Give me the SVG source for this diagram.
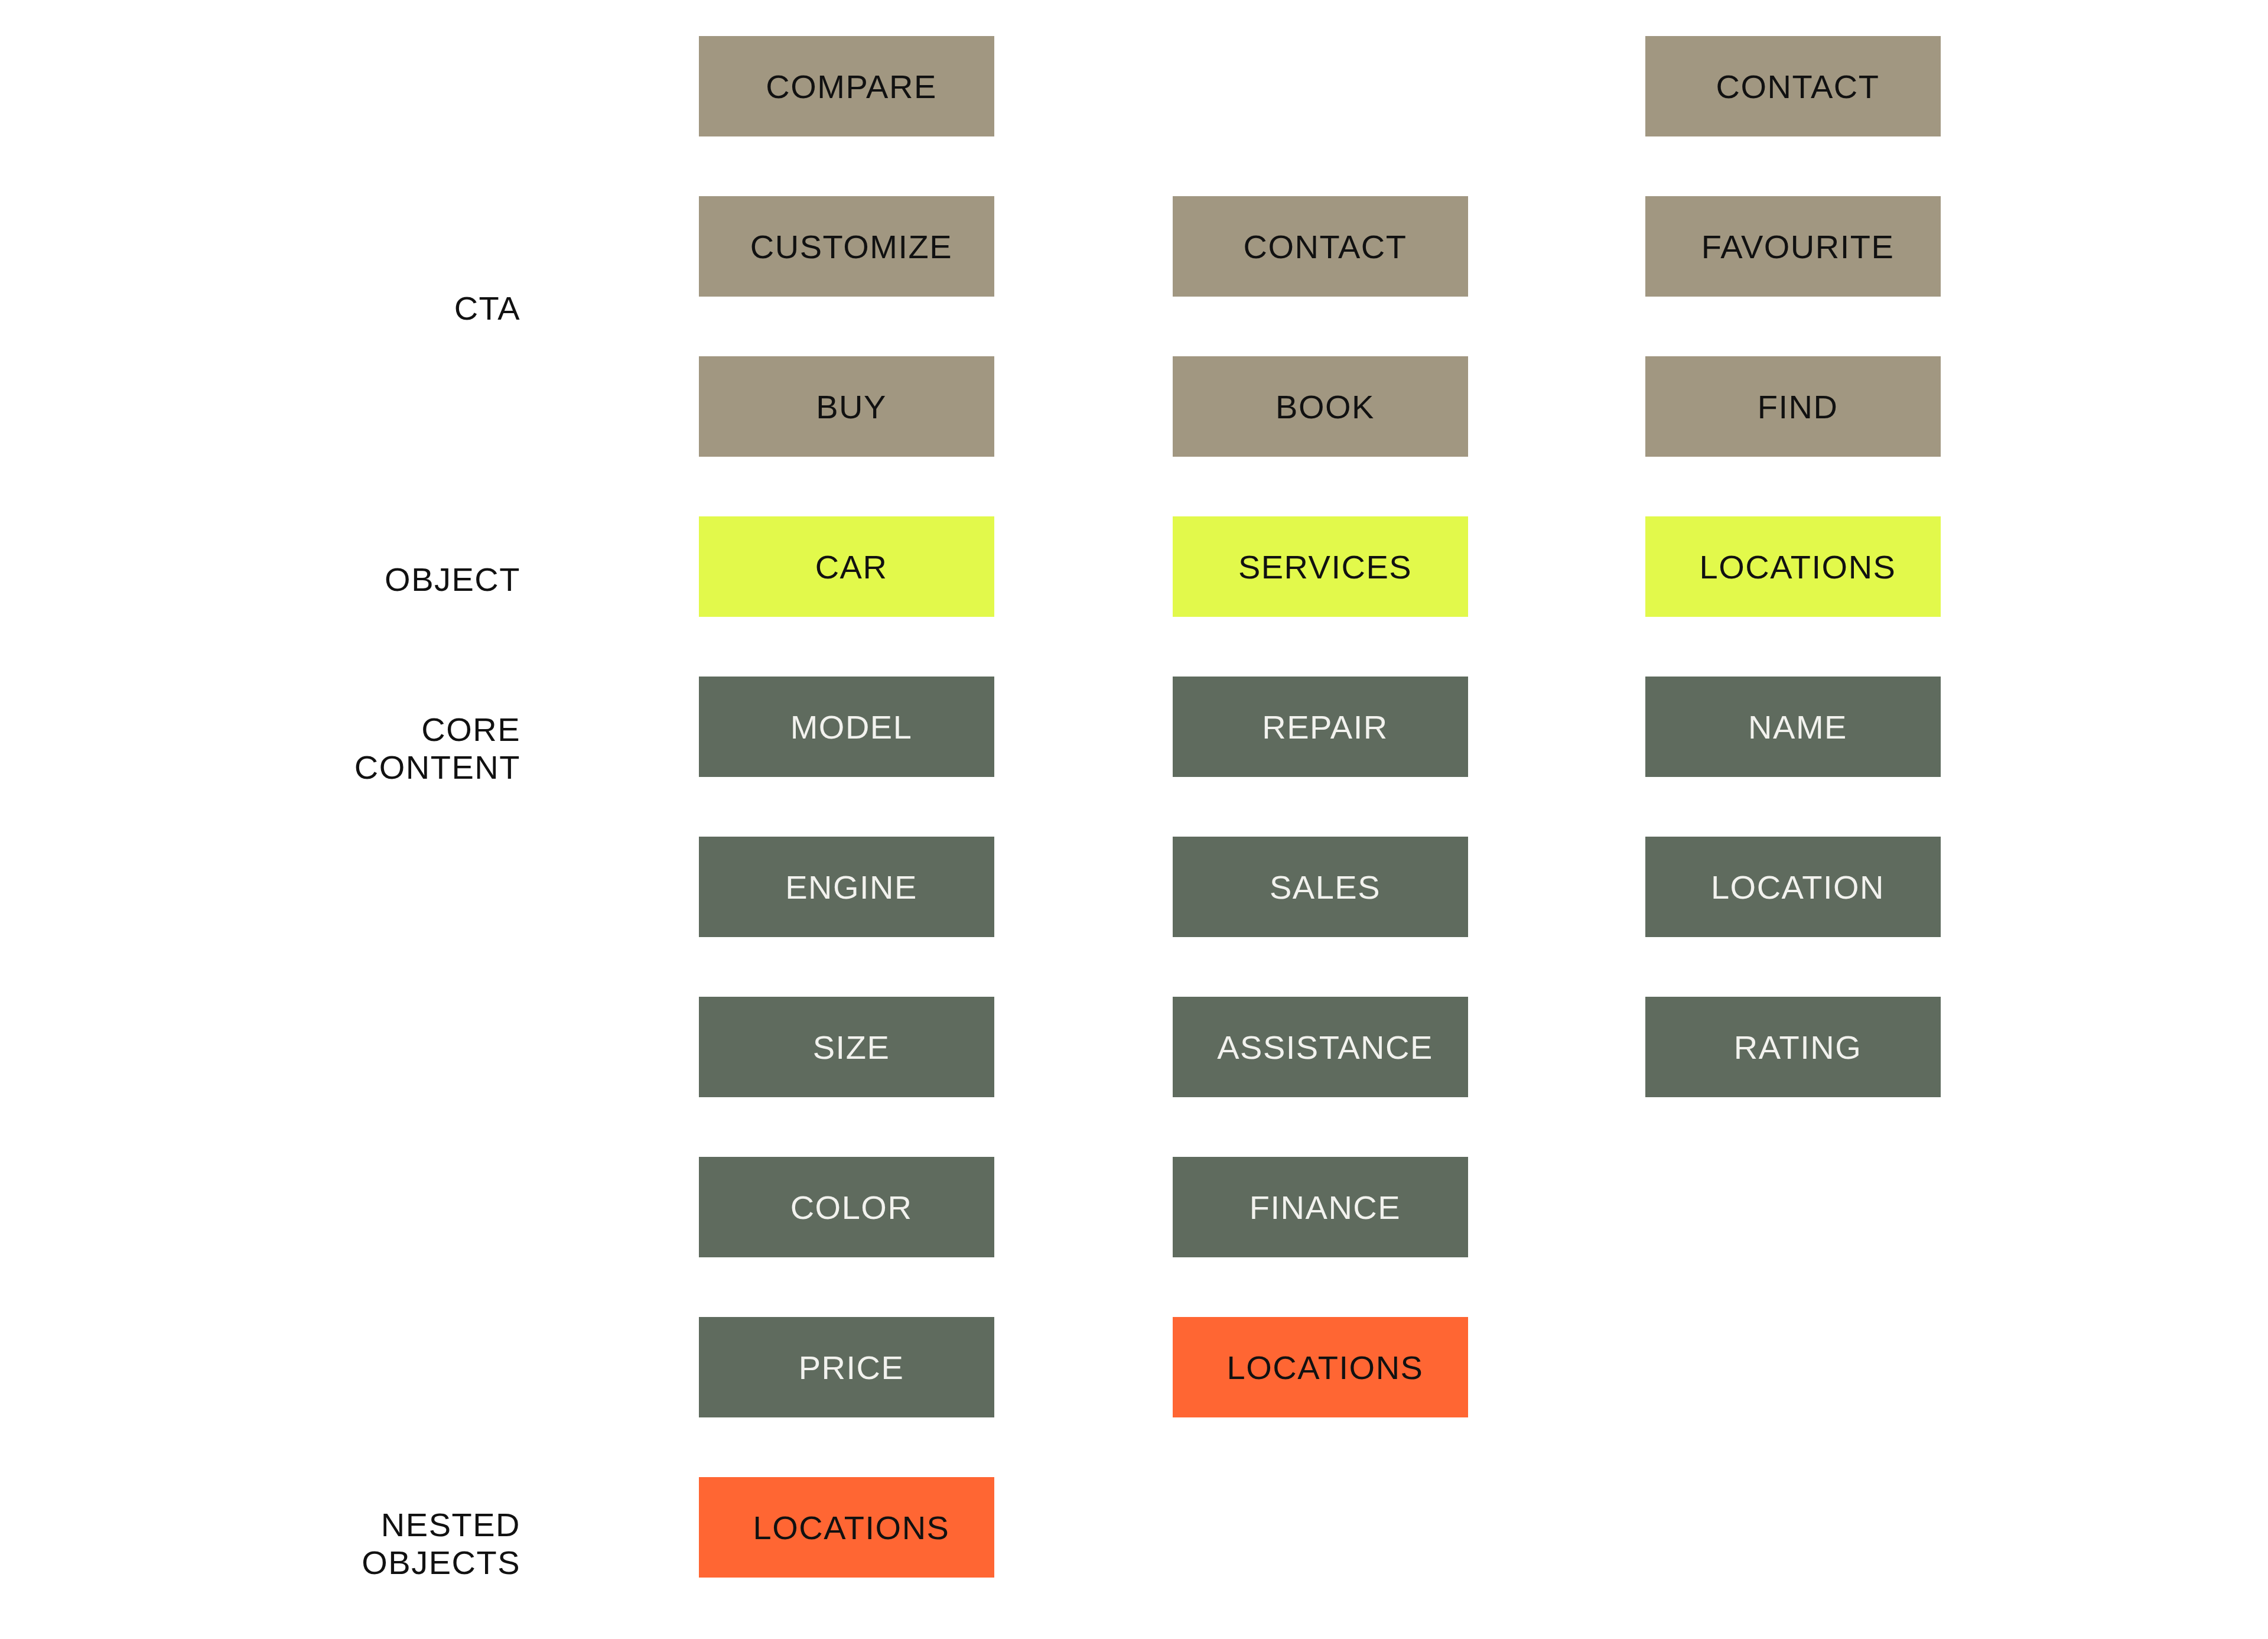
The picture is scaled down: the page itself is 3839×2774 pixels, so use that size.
<svg xmlns="http://www.w3.org/2000/svg" width="3839" height="2774" viewBox="0 0 3839 2774">
<style>
text{font-family:"Liberation Sans",Arial,sans-serif;font-size:56px;letter-spacing:1.5px}
.n text{text-anchor:middle}
.cta{fill:#A19781}.obj{fill:#E2F94B}.core{fill:#5F6B5E}.nest{fill:#FF6633}
.dark{fill:#111}.light{fill:#F2F2EE}
.lbl{text-anchor:end;fill:#111}
</style>
<rect width="3839" height="2774" fill="#fff"/>
<g id="labels">
<text class="lbl" x="881" y="541">CTA</text>
<text class="lbl" x="881" y="1000">OBJECT</text>
<text class="lbl" x="881" y="1254">CORE</text>
<text class="lbl" x="881" y="1318">CONTENT</text>
<text class="lbl" x="881" y="2600">NESTED</text>
<text class="lbl" x="881" y="2664">OBJECTS</text>
</g>
<g id="connectors"></g>
<g class="n">
<g id="c1-compare"><rect class="cta" x="1183" y="61" width="500" height="170"/><text class="dark" x="1441" y="166">COMPARE</text></g>
<g id="c1-customize"><rect class="cta" x="1183" y="332" width="500" height="170"/><text class="dark" x="1441" y="437">CUSTOMIZE</text></g>
<g id="c1-buy"><rect class="cta" x="1183" y="603" width="500" height="170"/><text class="dark" x="1441" y="708">BUY</text></g>
<g id="c1-car"><rect class="obj" x="1183" y="874" width="500" height="170"/><text class="dark" x="1441" y="979">CAR</text></g>
<g id="c1-model"><rect class="core" x="1183" y="1145" width="500" height="170"/><text class="light" x="1441" y="1250">MODEL</text></g>
<g id="c1-engine"><rect class="core" x="1183" y="1416" width="500" height="170"/><text class="light" x="1441" y="1521">ENGINE</text></g>
<g id="c1-size"><rect class="core" x="1183" y="1687" width="500" height="170"/><text class="light" x="1441" y="1792">SIZE</text></g>
<g id="c1-color"><rect class="core" x="1183" y="1958" width="500" height="170"/><text class="light" x="1441" y="2063">COLOR</text></g>
<g id="c1-price"><rect class="core" x="1183" y="2229" width="500" height="170"/><text class="light" x="1441" y="2334">PRICE</text></g>
<g id="c1-locations"><rect class="nest" x="1183" y="2500" width="500" height="170"/><text class="dark" x="1441" y="2605">LOCATIONS</text></g>

<g id="c2-contact"><rect class="cta" x="1985" y="332" width="500" height="170"/><text class="dark" x="2243" y="437">CONTACT</text></g>
<g id="c2-book"><rect class="cta" x="1985" y="603" width="500" height="170"/><text class="dark" x="2243" y="708">BOOK</text></g>
<g id="c2-services"><rect class="obj" x="1985" y="874" width="500" height="170"/><text class="dark" x="2243" y="979">SERVICES</text></g>
<g id="c2-repair"><rect class="core" x="1985" y="1145" width="500" height="170"/><text class="light" x="2243" y="1250">REPAIR</text></g>
<g id="c2-sales"><rect class="core" x="1985" y="1416" width="500" height="170"/><text class="light" x="2243" y="1521">SALES</text></g>
<g id="c2-assistance"><rect class="core" x="1985" y="1687" width="500" height="170"/><text class="light" x="2243" y="1792">ASSISTANCE</text></g>
<g id="c2-finance"><rect class="core" x="1985" y="1958" width="500" height="170"/><text class="light" x="2243" y="2063">FINANCE</text></g>
<g id="c2-locations"><rect class="nest" x="1985" y="2229" width="500" height="170"/><text class="dark" x="2243" y="2334">LOCATIONS</text></g>

<g id="c3-contact"><rect class="cta" x="2785" y="61" width="500" height="170"/><text class="dark" x="3043" y="166">CONTACT</text></g>
<g id="c3-favourite"><rect class="cta" x="2785" y="332" width="500" height="170"/><text class="dark" x="3043" y="437">FAVOURITE</text></g>
<g id="c3-find"><rect class="cta" x="2785" y="603" width="500" height="170"/><text class="dark" x="3043" y="708">FIND</text></g>
<g id="c3-locations"><rect class="obj" x="2785" y="874" width="500" height="170"/><text class="dark" x="3043" y="979">LOCATIONS</text></g>
<g id="c3-name"><rect class="core" x="2785" y="1145" width="500" height="170"/><text class="light" x="3043" y="1250">NAME</text></g>
<g id="c3-location"><rect class="core" x="2785" y="1416" width="500" height="170"/><text class="light" x="3043" y="1521">LOCATION</text></g>
<g id="c3-rating"><rect class="core" x="2785" y="1687" width="500" height="170"/><text class="light" x="3043" y="1792">RATING</text></g>
</g>
</svg>
